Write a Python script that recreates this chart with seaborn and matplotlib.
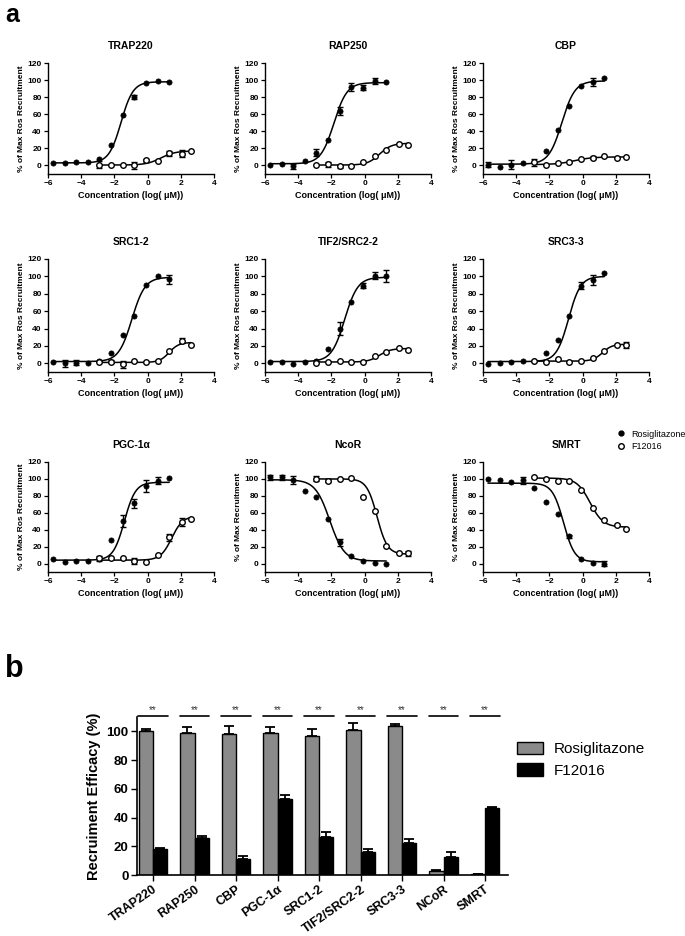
import numpy as np
import pandas as pd
import matplotlib
matplotlib.use("Agg")
import matplotlib.pyplot as plt
from matplotlib.lines import Line2D
from matplotlib.patches import Patch
import seaborn as sns

sns.set_style("ticks")
plt.rcParams['font.family'] = ['Liberation Sans', 'DejaVu Sans']
for k in ("text.color", "axes.labelcolor", "xtick.color", "ytick.color", "axes.edgecolor"):
    plt.rcParams[k] = "black"

# ---------------- data: panel a ----------------
panels = ["TRAP220", "RAP250", "CBP", "SRC1-2", "TIF2/SRC2-2", "SRC3-3", "PGC-1α", "NcoR", "SMRT"]
ylabels = ["% of Max Ros Recruitment"] * 7 + ["% of Max Recruitment"] * 2
rosi_logc = [-5.7, -5.0, -4.3, -3.6, -2.9, -2.2, -1.5, -0.8, -0.1, 0.6, 1.3]
f12016_logc = [-2.9, -2.2, -1.5, -0.8, -0.1, 0.6, 1.3, 2.05, 2.6]

trap220_rosi = [2.5, 2.5, 3.5, 4, 7, 24, 59, 80, 97, 99.5, 98]
trap220_rosi_err = [0, 0, 0, 0, 0, 0, 0, 2, 0, 0, 0]
trap220_f = [1, 0, 0.5, 0, 6, 5.5, 14.5, 14, 17.5]
trap220_f_err = [4, 0, 0, 4, 2, 0, 3, 4, 0]

rap250_rosi = [0, 1.5, -1, 5.5, 15, 30, 64, 92, 91, 99, 98]
rap250_rosi_err = [0, 0, 3, 0, 4, 0, 5, 5, 3, 4, 0]
rap250_f = [1, 1.5, -1, -0.5, 4.5, 11.5, 18, 25.5, 24.5]
rap250_f_err = [0, 3, 2, 0, 0, 0, 0, 0, 0]

cbp_rosi = [1, -1.5, 1, 3, 3.5, 17, 41.5, 69.5, 92.5, 98, 102]
cbp_rosi_err = [3, 0, 5, 0, 4, 0, 0, 0, 0, 5, 0]
cbp_f = [4, 1, 2.5, 4.5, 7.5, 9, 10.5, 9, 10]
cbp_f_err = [0, 0, 0, 0, 0, 2, 0, 0, 0]

src12_rosi = [2, 0, 0.5, 0.5, 3, 12, 33, 54, 90.5, 100.5, 96.5]
src12_rosi_err = [0, 4, 3, 0, 0, 0, 0, 0, 0, 0, 5]
src12_f = [1, 2, -1, 2.5, 2, 3, 14, 26, 21.5]
src12_f_err = [0, 2, 4, 0, 0, 0, 0, 3, 0]

tif2_rosi = [1.5, 1.5, -1, 2, 3, 17, 40, 70, 89.5, 101, 100]
tif2_rosi_err = [0, 0, 0, 0, 0, 0, 8, 0, 3, 4, 7]
tif2_f = [0, 1.5, 2.5, 1.5, 1.5, 8, 12.5, 17.5, 15.5]
tif2_f_err = [0, 0, 0, 0, 0, 0, 0, 0, 0]

src33_rosi = [-0.5, 0.5, 1.5, 2.5, 2.5, 11.5, 27, 54.5, 89, 96, 103.5]
src33_rosi_err = [0, 0, 0, 0, 0, 0, 0, 0, 4, 6, 0]
src33_f = [3, 2, 5, 2, 3, 6.5, 14.5, 21.5, 21]
src33_f_err = [0, 0, 0, 0, 0, 0, 0, 0, 3]

pgc_rosi = [5, 2, 3.5, 3.5, 5.5, 28, 50, 71, 92, 98, 101]
pgc_rosi_err = [0, 0, 0, 0, 3, 0, 7, 5, 7, 4, 0]
pgc_f = [6.5, 6.5, 7, 3, 1.5, 10.5, 31, 49, 53]
pgc_f_err = [0, 0, 0, 4, 0, 0, 4, 5, 0]

ncor_rosi = [102, 102, 99, 86, 79, 53, 25, 9.5, 2.5, 0.5, -0.5]
ncor_rosi_err = [3, 3, 5, 0, 0, 0, 4, 0, 0, 0, 0]
ncor_f = [100, 98, 100, 101, 79, 62.5, 21, 12, 12]
ncor_f_err = [3, 2, 0, 0, 0, 0, 0, 0, 3]

smrt_rosi = [100, 98.5, 96, 98.5, 89.5, 73, 58, 32, 5, 0.5, 0]
smrt_rosi_err = [0, 0, 0, 4, 0, 0, 0, 2, 0, 0, 3]
smrt_f = [102, 100.5, 98, 98, 87, 66, 51, 46, 41]
smrt_f_err = [0, 0, 0, 0, 0, 0, 0, 0, 0]

# 4-parameter logistic fits: (bottom, top, logEC50, hill)
rosi_fit = [(3, 98, -1.6, 1.2), (2, 97, -1.85, 1.1), (1.5, 99, -1.25, 1.1),
            (2, 99, -0.95, 1.1), (2, 99, -1.2, 1.1), (2, 100, -0.85, 1.2),
            (4, 96, -1.4, 1.3), (3, 99, -2.1, -1.0), (2, 95, -1.15, -1.3)]
f12016_fit = [(0.5, 17, 0.8, 1.0), (0.5, 26, 0.9, 1.2), (1, 10, -0.5, 0.8),
              (1, 24, 1.3, 1.5), (1.5, 17, 0.9, 1.3), (2.5, 22, 1.2, 1.5),
              (4, 56, 1.45, 1.3), (11, 100, 0.75, -1.4), (43, 101, 0.45, -1.1)]

rosi_vals = [trap220_rosi, rap250_rosi, cbp_rosi, src12_rosi, tif2_rosi, src33_rosi, pgc_rosi, ncor_rosi, smrt_rosi]
rosi_errs = [trap220_rosi_err, rap250_rosi_err, cbp_rosi_err, src12_rosi_err, tif2_rosi_err, src33_rosi_err, pgc_rosi_err, ncor_rosi_err, smrt_rosi_err]
f_vals = [trap220_f, rap250_f, cbp_f, src12_f, tif2_f, src33_f, pgc_f, ncor_f, smrt_f]
f_errs = [trap220_f_err, rap250_f_err, cbp_f_err, src12_f_err, tif2_f_err, src33_f_err, pgc_f_err, ncor_f_err, smrt_f_err]

# ---------------- data: panel b ----------------
targets = ["TRAP220", "RAP250", "CBP", "PGC-1α", "SRC1-2", "TIF2/SRC2-2", "SRC3-3", "NCoR", "SMRT"]
rosi_eff = [100, 98.8, 98.2, 98.8, 96.8, 101.2, 103.6, 2.8, 0.6]
rosi_eff_err = [1.6, 4.2, 5.8, 4.4, 4.6, 4.4, 1.8, 0.5, 0.4]
f12016_eff = [18.2, 26, 11.2, 53.2, 26.5, 16.2, 22, 12.5, 46.5]
f12016_eff_err = [0.7, 1.0, 2.2, 2.6, 3.5, 1.6, 2.8, 3.3, 0.5]

W, H = 685, 936
fig = plt.figure(figsize=(W / 100, H / 100), dpi=100)


def add_ax(x0, y0, x1, y1):
    return fig.add_axes([x0 / W, 1 - y1 / H, (x1 - x0) / W, (y1 - y0) / H])


def logistic(x, p):
    b, t, ec, h = p
    return b + (t - b) / (1 + 10 ** ((ec - x) * h))


col_x = [(48, 214), (265, 431), (483, 649)]
row_y = [(63, 174), (259, 372), (462, 572)]

for i, name in enumerate(panels):
    r, c = divmod(i, 3)
    ax = add_ax(col_x[c][0], row_y[r][0], col_x[c][1], row_y[r][1])
    # fitted curves
    for xs, p in ((rosi_logc, rosi_fit[i]), (f12016_logc, f12016_fit[i])):
        xx = np.linspace(min(xs), max(xs), 200)
        sns.lineplot(x=xx, y=logistic(xx, p), ax=ax, color="black", lw=1.1)
    # error bars
    for xs, ys, es in ((rosi_logc, rosi_vals[i], rosi_errs[i]), (f12016_logc, f_vals[i], f_errs[i])):
        xs, ys, es = np.array(xs), np.array(ys), np.array(es)
        m = es > 0
        ax.errorbar(xs[m], ys[m], yerr=es[m], fmt="none", ecolor="black",
                    elinewidth=1.0, capsize=2.2, capthick=1.0, zorder=3)
    sns.scatterplot(x=rosi_logc, y=rosi_vals[i], ax=ax, color="black", s=14,
                    edgecolor="black", linewidth=0.5, zorder=4)
    sns.scatterplot(x=f12016_logc, y=f_vals[i], ax=ax, color="white", s=16,
                    edgecolor="black", linewidth=1.0, zorder=4)
    ax.set_xlim(-6, 4)
    ax.set_ylim(-10, 120)
    ax.set_xticks([-6, -4, -2, 0, 2, 4])
    ax.set_yticks([0, 20, 40, 60, 80, 100, 120])
    sns.despine(ax=ax)
    for s in ("left", "bottom"):
        ax.spines[s].set_linewidth(1.0)
    ax.tick_params(length=3, width=0.9, labelsize=6, pad=1.5)
    for lab in ax.get_xticklabels() + ax.get_yticklabels():
        lab.set_fontweight("bold")
    ax.set_title(name, fontsize=7.5, fontweight="bold", pad=10)
    ax.set_ylabel(ylabels[i], fontsize=6, fontweight="bold", labelpad=2)
    ax.set_xlabel("Concentration (log( μM))", fontsize=6.5, fontweight="bold", labelpad=3)

# legend for panel a
leg_handles = [Line2D([], [], marker="o", ls="none", color="black", markersize=3.5, label="Rosiglitazone"),
               Line2D([], [], marker="o", ls="none", markerfacecolor="white", markeredgecolor="black",
                      markeredgewidth=1.0, markersize=4, label="F12016")]
fig.legend(handles=leg_handles, loc="upper left", bbox_to_anchor=(612 / W, 1 - 425 / H),
           frameon=False, fontsize=6.5, handlelength=1.0, handletextpad=0.6,
           labelspacing=0.35, borderpad=0)

fig.text(5 / W, 1 - 22 / H, "a", fontsize=18, fontweight="bold", va="baseline")
fig.text(5 / W, 1 - 677 / H, "b", fontsize=22, fontweight="bold", va="baseline")

# ---------------- panel b ----------------
axb = add_ax(137, 717, 508, 875)
df = pd.DataFrame({
    "target": targets * 2,
    "eff": rosi_eff + f12016_eff,
    "compound": ["Rosiglitazone"] * len(targets) + ["F12016"] * len(targets),
})
sns.barplot(data=df, x="target", y="eff", hue="compound",
            palette=["#8a8a8a", "black"], edgecolor="black", linewidth=1.0,
            width=0.68, errorbar=None, legend=False, ax=axb, zorder=2)
xpos = np.arange(len(targets))
axb.errorbar(xpos - 0.17, rosi_eff, yerr=[np.zeros(len(targets)), rosi_eff_err], fmt="none",
             ecolor="black", elinewidth=1.3, capsize=3.5, capthick=1.3, zorder=1)
axb.errorbar(xpos + 0.17, f12016_eff, yerr=[np.zeros(len(targets)), f12016_eff_err], fmt="none",
             ecolor="black", elinewidth=1.3, capsize=3.5, capthick=1.3, zorder=1)
for xp in xpos:
    axb.plot([xp - 0.36, xp + 0.36], [110.6, 110.6], color="black", lw=1.2, clip_on=False)
    axb.text(xp, 111.5, "**", ha="center", va="bottom", fontsize=7, color="#333333", clip_on=False)
axb.set_xlim(-0.386, 8.554)
axb.set_ylim(0, 110)
axb.set_yticks([0, 20, 40, 60, 80, 100])
sns.despine(ax=axb)
for s in ("left", "bottom"):
    axb.spines[s].set_linewidth(1.2)
axb.tick_params(length=4, width=1.0, labelsize=9.5, pad=2)
axb.set_xlabel("")
axb.set_ylabel("Recruiment Efficacy (%)", fontsize=10.5, fontweight="bold", labelpad=4)
axb.set_xticks(xpos)
axb.set_xticklabels(targets, rotation=35, ha="right", rotation_mode="anchor", fontsize=9, fontweight="bold")
for lab in axb.get_yticklabels():
    lab.set_fontweight("bold")

bar_handles = [Patch(facecolor="#8a8a8a", edgecolor="black", linewidth=1.0, label="Rosiglitazone"),
               Patch(facecolor="black", edgecolor="black", linewidth=1.0, label="F12016")]
fig.legend(handles=bar_handles, loc="upper left", bbox_to_anchor=(509 / W, 1 - 734 / H),
           frameon=False, fontsize=11, handlelength=1.7, handleheight=0.9,
           handletextpad=0.7, labelspacing=0.45, borderpad=0)

fig.savefig("out.png", dpi=100)
